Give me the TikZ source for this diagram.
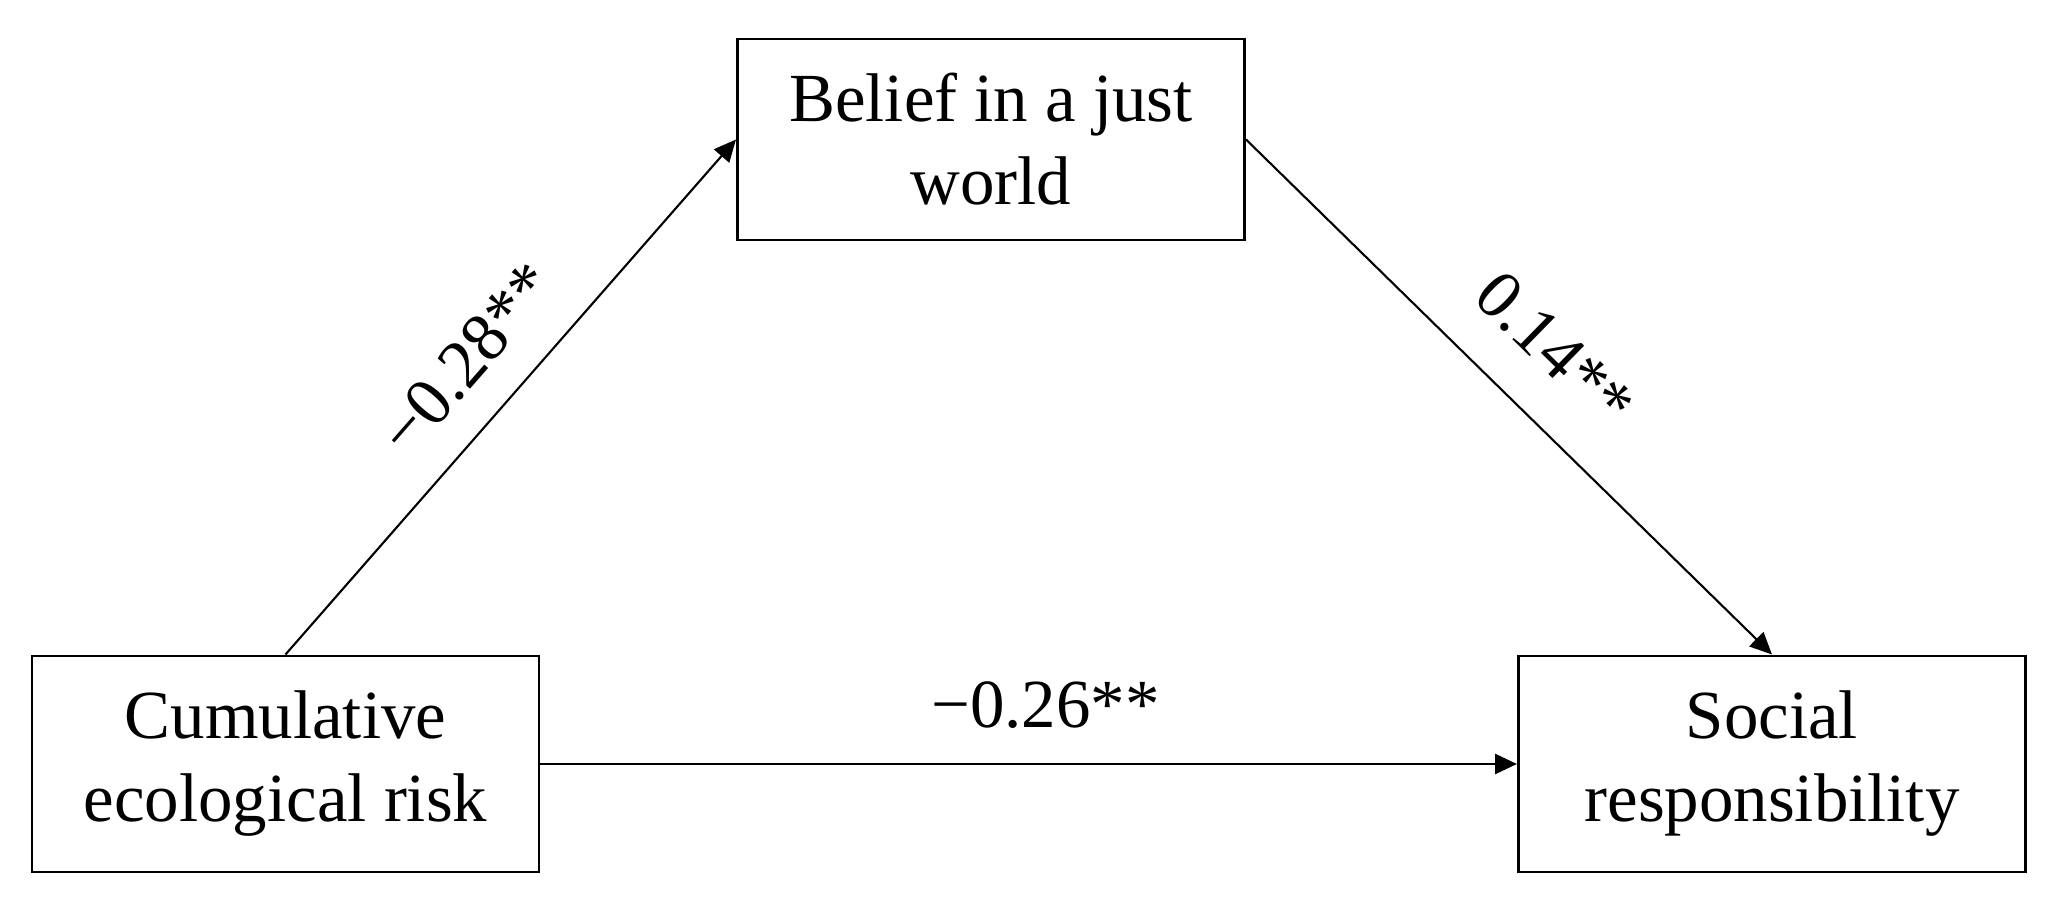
\documentclass[tikz,border=0pt]{standalone}
\usepackage{fontspec}
\setmainfont{Liberation Serif}
\usetikzlibrary{arrows.meta}

\begin{document}
\begin{tikzpicture}[
    >={Triangle[length=0.22cm,width=0.2cm]},
    var/.style={draw, line width=0.85pt, minimum width=5.07cm, align=center,
      font=\fontsize{19.6}{23.6}\selectfont},
    coef/.style={font=\fontsize{19.6}{23.6}\selectfont},
  ]
  \useasboundingbox (0,0) rectangle (20.57,9.03);
  %% mediation model
  % VARIABLES
      % x (predictor)
      \node[var, minimum height=2.16cm] (cer) at (2.855,1.39)
        {Cumulative\\ecological risk};
      % m (mediator)
      \node[var, minimum height=2.01cm] (bjw) at (9.91,7.635)
        {Belief in a just\\world};
      % y (outcome)
      \node[var, minimum height=2.16cm] (sr) at (17.72,1.39)
        {Social\\responsibility};

  % PATHS
      \draw[->, line width=0.6pt] (cer.north) -- (bjw.west)
        node[coef, midway, sloped, above=0.22cm] {−0.28**};
      \draw[->, line width=0.6pt] (bjw.east) -- (sr.north)
        node[coef, midway, sloped, above=0.3cm] {0.14**};
      \draw[->, line width=0.8pt] (cer.east) -- (sr.west)
        node[coef, pos=0.517, above=0.22cm] {−0.26**};
\end{tikzpicture}
\end{document}
